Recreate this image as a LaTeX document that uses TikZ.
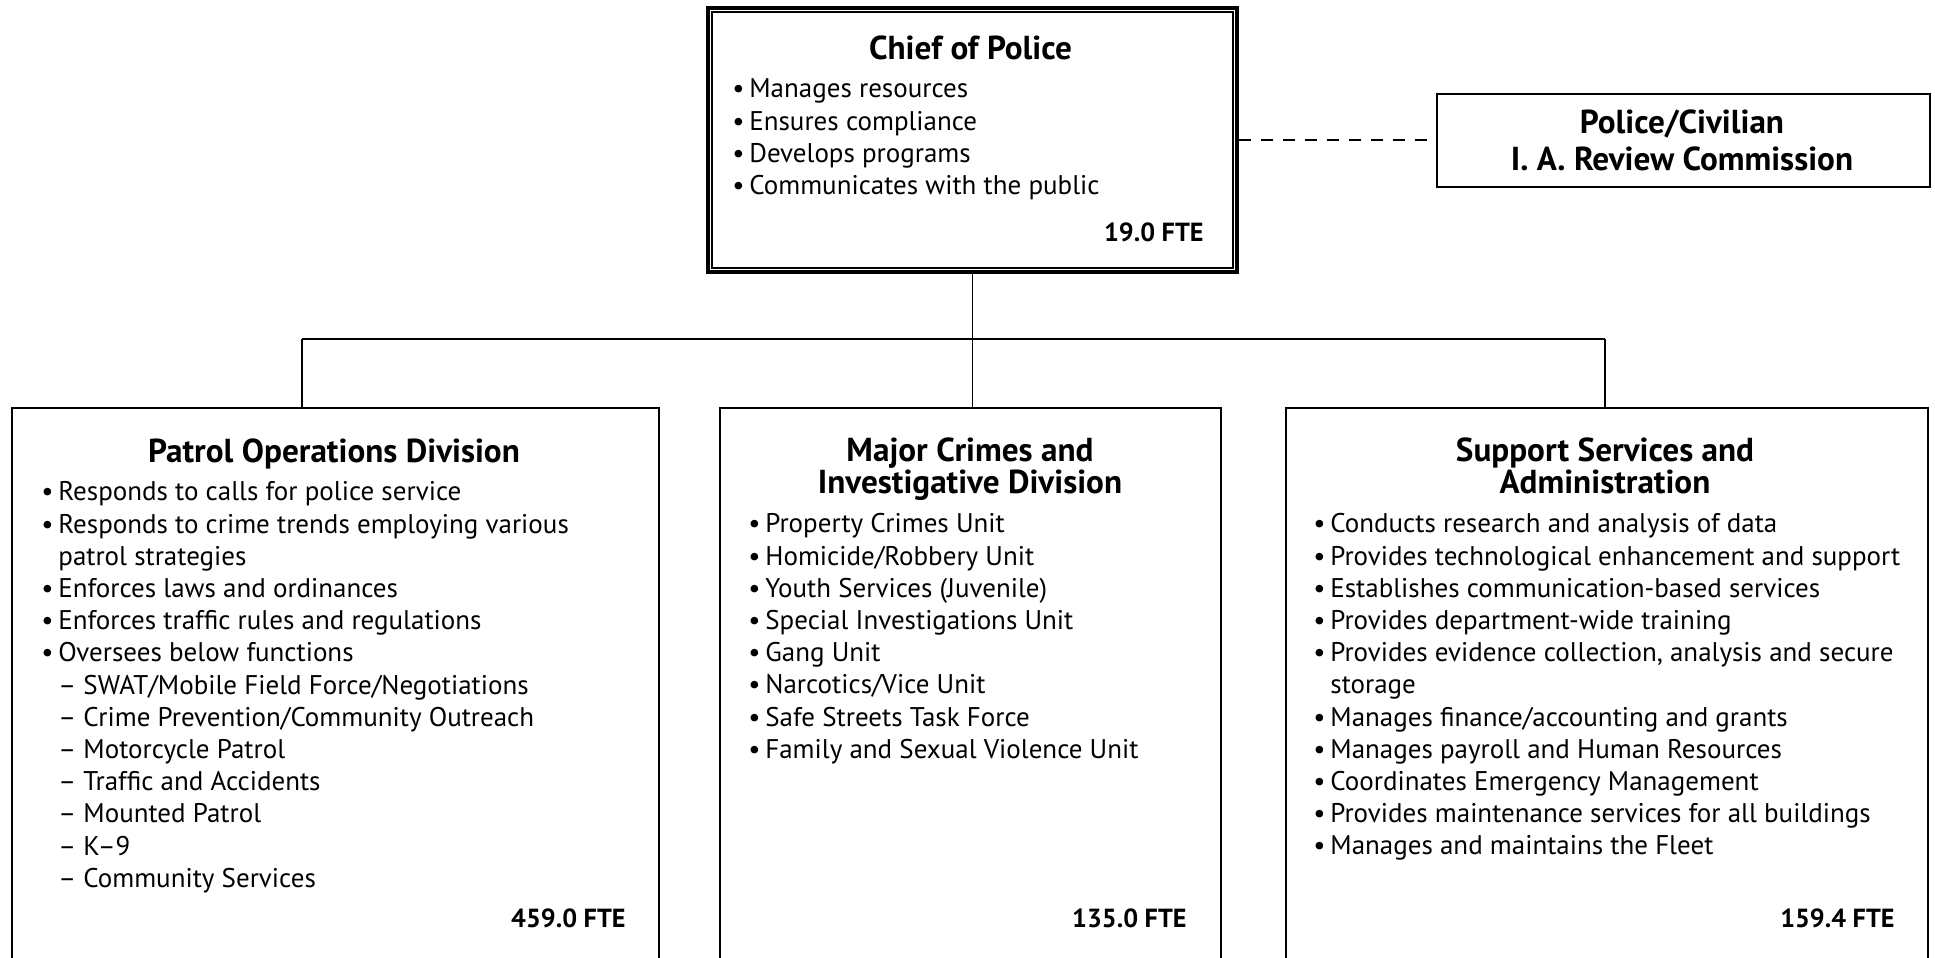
\documentclass[tikz,border=0pt]{standalone}
\usepackage{fontspec}
\setmainfont{PT Sans}
\newcommand\bl[1]{\strut\makebox[8.5pt][l]{•}#1}
\newcommand\bc[1]{\strut\hspace*{8.5pt}#1}
\newcommand\dl[1]{\strut\hspace*{8.5pt}– #1}
\newcommand\tightls{\lineskiplimit -100pt\relax}
\begin{document}
\begin{tikzpicture}[x=0.5pt,y=-0.5pt,
  body/.style={inner sep=0pt, align=left, anchor=north west, font={\fontsize{13.5}{16.1}\selectfont}},
  ttl/.style={inner sep=0pt, align=center, anchor=north, font={\fontsize{16.6}{16}\selectfont\bfseries\tightls}},
  fte/.style={inner sep=0pt, anchor=base east, font={\fontsize{13.1}{16}\selectfont\bfseries}},
  unit/.style={draw, line width=1pt, rectangle, inner sep=0pt, anchor=north west},
  conn/.style={line width=0.65pt}]
\useasboundingbox (0,0) rectangle (1935,958);
\clip (0,0) rectangle (1935,958);
% boxes
\node[unit, line width=2pt, minimum width=264.5pt, minimum height=132pt] (chief) at (706,6) {};
\draw[line width=0.7pt] ([shift={(3pt,-3pt)}]chief.north west) rectangle ([shift={(-3pt,3pt)}]chief.south east);
\node[unit, minimum width=246.5pt, minimum height=46.5pt] (comm) at (1436,93) {};
\node[unit, minimum width=323.5pt, minimum height=300pt] (pol) at (11,407) {};
\node[unit, minimum width=250.5pt, minimum height=300pt] (mid) at (719,407) {};
\node[unit, minimum width=321pt, minimum height=300pt] (sup) at (1285,407) {};
% chief text
\node[ttl] (chiefT) at (970.5,35) {\strut Chief of Police};
\node[body] (chiefL) at (732,75) {\bl{Manages resources}\\\bl{Ensures compliance}\\\bl{Develops programs}\\\bl{Communicates with the public}};
\node[fte] (chiefF) at (1204,241) {19.0 FTE};
% commission
\node[ttl, font={\fontsize{16.6}{18.5}\selectfont\bfseries\tightls}] (commT) at (1682,107) {\strut Police/Civilian\\\strut I. A. Review Commission};
% left
\node[ttl] (polT) at (334,438) {\strut Patrol Operations Division};
\node[body] (polL) at (41,478) {\bl{Responds to calls for police service}\\\bl{Responds to crime trends employing various}\\\bc{patrol strategies}\\\bl{Enforces laws and ordinances}\\\bl{Enforces traffic rules and regulations}\\\bl{Oversees below functions}\\\dl{SWAT/Mobile Field Force/Negotiations}\\\dl{Crime Prevention/Community Outreach}\\\dl{Motorcycle Patrol}\\\dl{Traffic and Accidents}\\\dl{Mounted Patrol}\\\dl{K–9}\\\dl{Community Services}};
\node[fte] (polF) at (626,927) {459.0 FTE};
% middle
\node[ttl] (midT) at (970,437) {\strut Major Crimes and\\\strut Investigative Division};
\node[body] (midL) at (748,510) {\bl{Property Crimes Unit}\\\bl{Homicide/Robbery Unit}\\\bl{Youth Services (Juvenile)}\\\bl{Special Investigations Unit}\\\bl{Gang Unit}\\\bl{Narcotics/Vice Unit}\\\bl{Safe Streets Task Force}\\\bl{Family and Sexual Violence Unit}};
\node[fte] (midF) at (1187,927) {135.0 FTE};
% right
\node[ttl] (supT) at (1605,437) {\strut Support Services and\\\strut Administration};
\node[body] (supL) at (1313,510) {\bl{Conducts research and analysis of data}\\\bl{Provides technological enhancement and support}\\\bl{Establishes communication-based services}\\\bl{Provides department-wide training}\\\bl{Provides evidence collection, analysis and secure}\\\bc{storage}\\\bl{Manages finance/accounting and grants}\\\bl{Manages payroll and Human Resources}\\\bl{Coordinates Emergency Management}\\\bl{Provides maintenance services for all buildings}\\\bl{Manages and maintains the Fleet}};
\node[fte] (supF) at (1895,927) {159.4 FTE};
% connectors
\draw[conn, dash pattern=on 6pt off 5pt] (chief.east) -- (chief.east -| comm.west);
\coordinate (jl) at (302,339);
\coordinate (jr) at (1605,339);
\draw[conn] (jl) -- (jr);
\draw[conn] (chief.south) -- (chief.south |- mid.north);
\draw[conn] (jl) -- (jl |- pol.north);
\draw[conn] (jr) -- (jr |- sup.north);
\end{tikzpicture}
\end{document}
